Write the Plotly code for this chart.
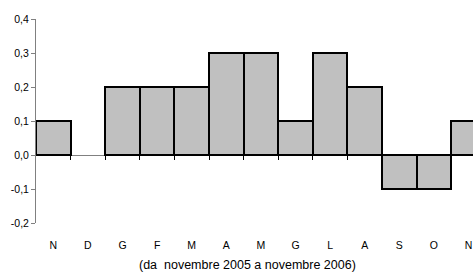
import plotly.graph_objects as go

months = ["N", "D", "G", "F", "M", "A", "M", "G", "L", "A", "S", "O", "N"]
values = [0.1, 0.0, 0.2, 0.2, 0.2, 0.3, 0.3, 0.1, 0.3, 0.2, -0.1, -0.1, 0.1]
y_ticks = [-0.2, -0.1, 0.0, 0.1, 0.2, 0.3, 0.4]
y_labels = ["-0,2", "-0,1", "0,0", "0,1", "0,2", "0,3", "0,4"]
subtitle = "(da  novembre 2005 a novembre 2006)"

idx = list(range(len(months)))
boundaries = [i + 0.5 for i in idx[:-1]]
line_widths = [0 if v == 0 else 2 for v in values]

FONT = "Liberation Sans, Arial, sans-serif"
xr = [-0.5, 12.13]

fig = go.Figure()
fig.add_trace(go.Bar(
    x=idx, y=values,
    marker=dict(color="#c0c0c0", line=dict(color="black", width=line_widths)),
    width=1.0, cliponaxis=True, showlegend=False, hoverinfo="skip",
))

fig.update_layout(
    width=473, height=273,
    margin=dict(l=36, r=0, t=19, b=50, autoexpand=False),
    paper_bgcolor="white", plot_bgcolor="white",
    bargap=0,
    font=dict(family=FONT, size=10, color="black"),
    xaxis=dict(
        range=xr, tickmode="array", tickvals=idx, ticktext=months,
        showline=False, showgrid=False, zeroline=False, automargin=False,
        ticks="outside", ticklen=12, tickcolor="rgba(0,0,0,0)",
        tickfont=dict(family=FONT, size=10.5),
    ),
    xaxis2=dict(
        range=xr, overlaying="x", anchor="free", position=1/3, side="bottom",
        tickmode="array", tickvals=boundaries, showticklabels=False,
        ticks="outside", ticklen=4, tickcolor="black", tickwidth=1,
        showline=True, linecolor="#808080", linewidth=1, automargin=False,
        showgrid=False, zeroline=False, layer="below traces",
    ),
    yaxis=dict(
        range=[-0.2, 0.4], tickmode="array", tickvals=y_ticks, ticktext=y_labels,
        showgrid=False, zeroline=False, automargin=False,
        showline=True, linecolor="#808080", linewidth=1,
        ticks="outside", ticklen=4, tickcolor="#808080",
        tickfont=dict(family=FONT, size=10.5),
    ),
    annotations=[dict(
        text=subtitle, xref="paper", yref="paper", x=0.484, y=-0.206,
        xanchor="center", yanchor="middle", showarrow=False,
        font=dict(family=FONT, size=12.5),
    )],
)
fig.add_trace(go.Scatter(x=[None], y=[None], xaxis="x2", showlegend=False, hoverinfo="skip"))

fig.write_html(
    "out.html",
    config={"displayModeBar": False},
    post_script="document.body.style.margin='0';document.body.style.overflow='hidden';",
)
